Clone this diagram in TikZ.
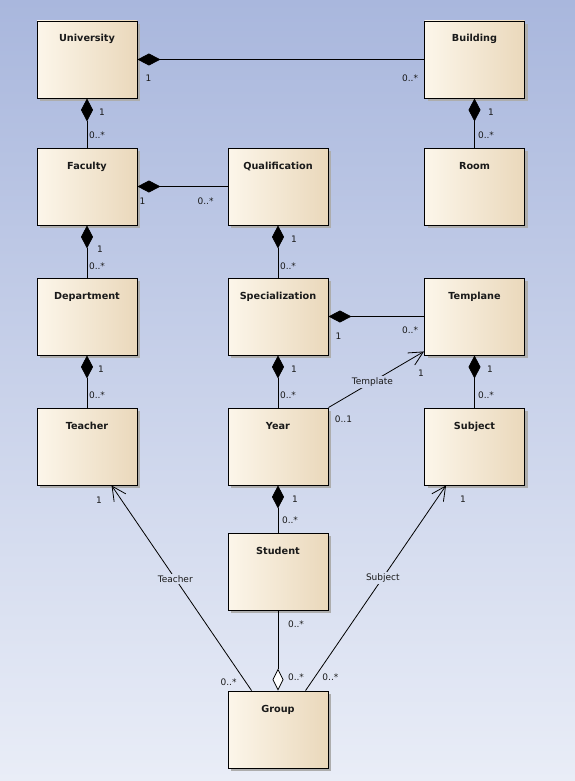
\documentclass[tikz,border=0pt]{standalone}
\usepackage{fontspec}
\setmainfont{DejaVu Sans}
\usetikzlibrary{arrows.meta,shadows}

\definecolor{bgtop}{HTML}{A9B7DD}
\definecolor{bgbot}{HTML}{E9EDF7}
\definecolor{boxlight}{HTML}{FCF6EA}
\definecolor{boxdark}{HTML}{EAD8BB}
\definecolor{ink}{HTML}{1A1A1A}

\tikzset{
  cls/.style={draw=black, line width=0.9pt, minimum width=100pt, minimum height=77pt,
    inner xsep=0pt, inner ysep=0pt, text height=21pt, text depth=56pt,
    left color=boxlight, right color=boxdark,
    font=\bfseries\fontsize{9.7}{11}\selectfont, text=ink,
    drop shadow={shadow xshift=3pt, shadow yshift=-3pt, fill=black!32, opacity=1}},
  mult/.style={font=\fontsize{9}{10}\selectfont, text=ink, inner sep=0.5pt},
  role/.style={font=\fontsize{9}{10}\selectfont, text=ink, inner sep=1.5pt},
  link/.style={line width=0.8pt, draw=black},
  comp/.style={link, {Diamond[length=23pt, width=12pt]}-},
  aggr/.style={link, -{Diamond[length=22pt, width=11pt, fill=white]}},
  nav/.style={link, -{Straight Barb[length=14pt, width=14pt, line width=0.8pt]}},
}

\begin{document}
\begin{tikzpicture}[x=1pt, y=-1pt]
  % page and background gradient
  \useasboundingbox (0,0) rectangle (575,781);
  \shade[top color=bgtop, bottom color=bgbot] (0,0) rectangle (575,781);

  % classes
  \node[cls] (uni)   at (87,59.5)    {University};
  \node[cls] (bld)   at (474.5,59.5) {Building};
  \node[cls] (fac)   at (87,186.5)   {Faculty};
  \node[cls] (qual)  at (278,186.5)  {Qualification};
  \node[cls] (room)  at (474.5,186.5){Room};
  \node[cls] (dep)   at (87,316.5)   {Department};
  \node[cls] (spec)  at (278,316.5)  {Specialization};
  \node[cls] (tpl)   at (474.5,316.5){Templane};
  \node[cls] (teach) at (87,446.5)   {Teacher};
  \node[cls] (year)  at (278,446.5)  {Year};
  \node[cls] (subj)  at (474.5,446.5){Subject};
  \node[cls] (stud)  at (278,571.5)  {Student};
  \node[cls] (grp)   at (278,729.5)  {Group};

  % compositions
  \draw[comp] (uni.east)   -- (bld.west);
  \draw[comp] (uni.south)  -- (fac.north);
  \draw[comp] (bld.south)  -- (room.north);
  \draw[comp] (fac.east)   -- (qual.west);
  \draw[comp] (fac.south)  -- (dep.north);
  \draw[comp] (qual.south) -- (spec.north);
  \draw[comp] (spec.east)  -- (tpl.west);
  \draw[comp] (dep.south)  -- (teach.north);
  \draw[comp] (spec.south) -- (year.north);
  \draw[comp] (tpl.south)  -- (subj.north);
  \draw[comp] (year.south) -- (stud.north);

  % aggregation
  \draw[aggr] (stud.south) -- (grp.north);

  % navigable associations
  \draw[nav] (year.north east) -- ([yshift=4pt]tpl.south west)
    node[role, pos=0.46, fill=bgbot!49!bgtop] (r-tpl) {Template};
  \draw[nav] ([xshift=24pt]grp.north west) -- ([xshift=75pt]teach.south west)
    node[role, pos=0.545, fill=bgbot!74!bgtop] (r-teach) {Teacher};
  \draw[nav] ([xshift=78pt]grp.north west) -- ([xshift=22pt]subj.south west)
    node[role, pos=0.55, fill=bgbot!74!bgtop] (r-subj) {Subject};

  % multiplicities
  \node[mult] (m1)  at ([shift={(11pt,-18.5pt)}]uni.east)  {1};
  \node[mult] (m2)  at ([shift={(-14pt,-18.5pt)}]bld.west) {0..*};
  \node[mult] (m3)  at ([shift={(15pt,-14pt)}]uni.south)   {1};
  \node[mult] (m4)  at ([shift={(10pt,12pt)}]fac.north)    {0..*};
  \node[mult] (m5)  at ([shift={(16.5pt,-14pt)}]bld.south) {1};
  \node[mult] (m6)  at ([shift={(11.5pt,12pt)}]room.north) {0..*};
  \node[mult] (m7)  at ([shift={(5pt,-14.5pt)}]fac.east)   {1};
  \node[mult] (m8)  at ([shift={(-22pt,-14.5pt)}]qual.west){0..*};
  \node[mult] (m9)  at ([shift={(13pt,-24pt)}]fac.south)   {1};
  \node[mult] (m10) at ([shift={(10pt,11pt)}]dep.north)    {0..*};
  \node[mult] (m11) at ([shift={(16pt,-14pt)}]qual.south)  {1};
  \node[mult] (m12) at ([shift={(10pt,11pt)}]spec.north)   {0..*};
  \node[mult] (m13) at ([shift={(10pt,-19.5pt)}]spec.east) {1};
  \node[mult] (m14) at ([shift={(-14pt,-13.5pt)}]tpl.west) {0..*};
  \node[mult] (m15) at ([shift={(14pt,-14pt)}]dep.south)   {1};
  \node[mult] (m16) at ([shift={(10pt,12pt)}]teach.north)  {0..*};
  \node[mult] (m17) at ([shift={(16pt,-14pt)}]spec.south)  {1};
  \node[mult] (m18) at ([shift={(10pt,12pt)}]year.north)   {0..*};
  \node[mult] (m19) at ([shift={(15.5pt,-14pt)}]tpl.south) {1};
  \node[mult] (m20) at ([shift={(11.5pt,12pt)}]subj.north) {0..*};
  \node[mult] (m21) at ([shift={(15pt,-12pt)}]year.north east) {0..1};
  \node[mult] (m22) at ([shift={(-3pt,-18pt)}]tpl.south west)  {1};
  \node[mult] (m23) at ([shift={(17pt,-14pt)}]year.south)  {1};
  \node[mult] (m24) at ([shift={(12pt,12pt)}]stud.north)   {0..*};
  \node[mult] (m25) at ([shift={(12pt,-15pt)}]teach.south) {1};
  \node[mult] (m26) at ([shift={(-11.5pt,-14pt)}]subj.south) {1};
  \node[mult] (m27) at ([shift={(18pt,-14pt)}]stud.south)  {0..*};
  \node[mult] (m28) at ([shift={(18pt,13pt)}]grp.north)    {0..*};
  \node[mult] (m29) at ([shift={(1pt,8pt)}]grp.north west) {0..*};
  \node[mult] (m30) at ([shift={(2pt,13pt)}]grp.north east){0..*};
\end{tikzpicture}
\end{document}
